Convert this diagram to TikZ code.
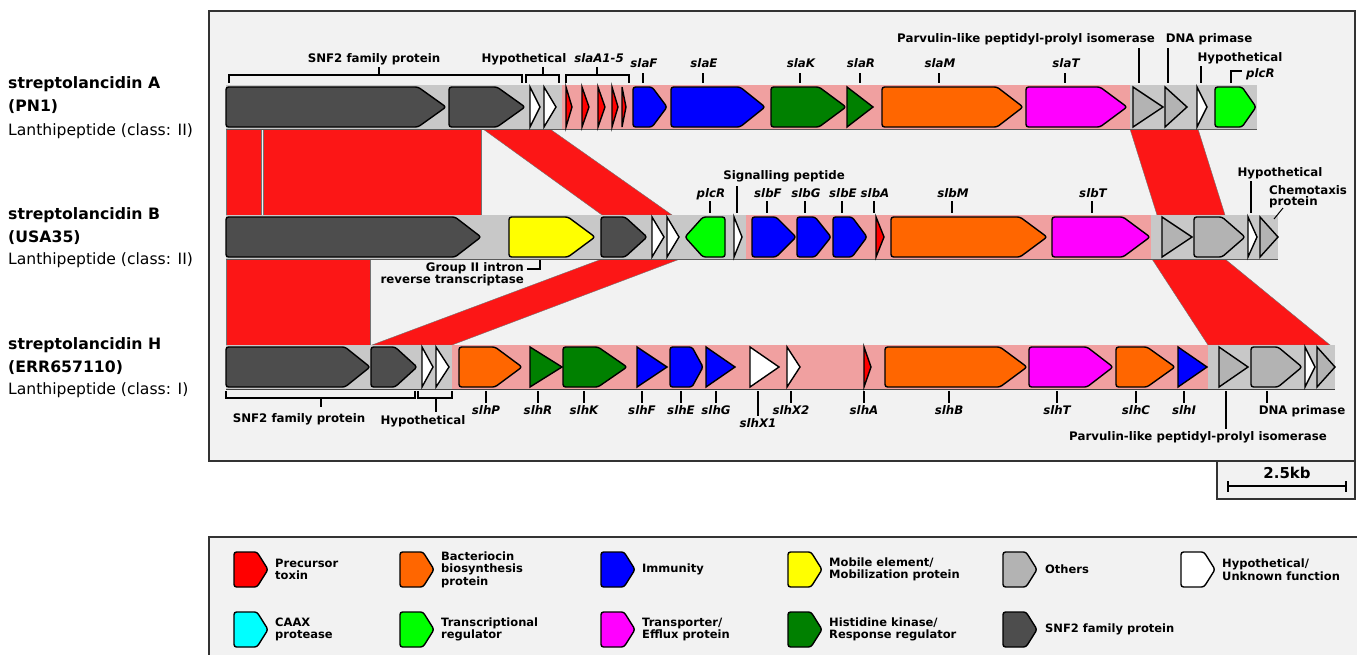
\documentclass[tikz,border=0pt]{standalone}
\usepackage{fontspec}
\setmainfont{DejaVu Sans}[BoldFont={DejaVu Sans Bold},ItalicFont={DejaVu Sans Oblique},BoldItalicFont={DejaVu Sans Bold Oblique}]
\definecolor{panel}{HTML}{F2F2F2}
\definecolor{band}{HTML}{C8C8C8}
\definecolor{pinkb}{HTML}{F0A0A0}
\definecolor{snf}{HTML}{4D4D4D}
\definecolor{oth}{HTML}{B3B3B3}
\definecolor{prec}{HTML}{FF0000}
\definecolor{imm}{HTML}{0000FF}
\definecolor{hk}{HTML}{008000}
\definecolor{trg}{HTML}{00FF00}
\definecolor{bac}{HTML}{FF6600}
\definecolor{trans}{HTML}{FF00FF}
\definecolor{mob}{HTML}{FFFF00}
\definecolor{caax}{HTML}{00FFFF}
\definecolor{lnkc}{HTML}{FC1616}
\tikzset{
 gene/.style={draw=black, line width=1.4pt, rounded corners=2.5pt},
 tgene/.style={draw=black, line width=1.4pt},
 tk/.style={draw=black, line width=1.2pt},
 lab/.style={font=\fontsize{11.8}{13}\selectfont\bfseries, inner sep=0pt, anchor=base},
 glab/.style={font=\fontsize{11.8}{13}\selectfont\bfseries\itshape, inner sep=0pt, anchor=base},
 side/.style={font=\fontsize{15.7}{19}\selectfont\bfseries, inner sep=0pt, anchor=base west},
 sider/.style={font=\fontsize{15.6}{19}\selectfont, inner sep=0pt, anchor=base west},
 leg/.style={font=\fontsize{11.5}{12.5}\selectfont\bfseries, inner sep=0pt, anchor=west, align=left},
 lnk/.style={fill=lnkc, draw=black!55, line width=0.4pt},
}
% x1, body end, tip, y centre, colour
\newcommand\garr[5]{\filldraw[gene, fill=#5] (#3,#4) -- (#2,#4-20) -- (#1,#4-20) -- (#1,#4+20) -- (#2,#4+20) -- cycle;}
% tip (left), body start, x2, y centre, colour
\newcommand\garrl[5]{\filldraw[gene, fill=#5] (#1,#4) -- (#2,#4-20) -- (#3,#4-20) -- (#3,#4+20) -- (#2,#4+20) -- cycle;}
% triangle: x1, tip, y centre, colour
\newcommand\gtri[4]{\filldraw[tgene, fill=#4] (#2,#3) -- (#1,#3-20) -- (#1,#3+20) -- cycle;}
\newcommand\legicon[3]{\filldraw[gene, fill=#3] (#1+34,#2) -- (#1+23,#2-17.5) -- (#1,#2-17.5) -- (#1,#2+17.5) -- (#1+23,#2+17.5) -- cycle;}
\begin{document}
\begin{tikzpicture}[x=1pt,y=-1pt]
\useasboundingbox (0,0) rectangle (1357,654);
\fill[white] (0,0) rectangle (1357,654);
% panels
\draw[fill=panel, line width=1.3pt, draw=black!80] (209,11) rectangle (1355,461);
\draw[fill=panel, line width=1.3pt, draw=black!80] (1217,461) rectangle (1355,499);
\draw[fill=panel, line width=1.3pt, draw=black!80] (209,537) rectangle (1375,680);

% side labels
\node[side] (a1) at (8,88) {streptolancidin A};
\node[side] (a2) at (8,111) {(PN1)};
\node[sider] (a3) at (8,135) {Lanthipeptide (class: II)};
\node[side] (b1) at (8,219) {streptolancidin B};
\node[side] (b2) at (8,242) {(USA35)};
\node[sider] (b3) at (8,264) {Lanthipeptide (class: II)};
\node[side] (c1) at (8,349) {streptolancidin H};
\node[side] (c2) at (8,372) {(ERR657110)};
\node[sider] (c3) at (8,394) {Lanthipeptide (class: I)};

% links
\path[lnk] (226,129) -- (261,129) -- (261,215) -- (226,215) -- cycle;
\path[lnk] (263,129) -- (481,129) -- (481,215) -- (263,215) -- cycle;
\path[lnk] (483,129) -- (550,129) -- (672,215) -- (602,215) -- cycle;
\path[lnk] (1130,129) -- (1198,129) -- (1225,215) -- (1157,215) -- cycle;
\path[lnk] (226,259) -- (370,259) -- (370,345) -- (226,345) -- cycle;
\path[lnk] (602,259) -- (680,259) -- (452,345) -- (372,345) -- cycle;
\path[lnk] (1152,259) -- (1225,259) -- (1330,345) -- (1208,345) -- cycle;

% bands
\fill[band] (226,85) rectangle (1257,129);
\fill[pinkb] (562,85) rectangle (1130,129);
\draw[black!65, line width=0.6pt] (226,129) -- (1257,129);
\fill[band] (226,215) rectangle (1278,259);
\fill[pinkb] (746,215) rectangle (1151,259);
\draw[black!65, line width=0.6pt] (226,259) -- (1278,259);
\fill[band] (226,345) rectangle (1335,389);
\fill[pinkb] (452,345) rectangle (1208,389);
\draw[black!75, line width=0.8pt] (226,389) -- (1335,389);

% genes A
\garr{226}{418}{446}{107}{snf}
\garr{449}{497}{525}{107}{snf}
\gtri{530}{540}{107}{white}
\gtri{544}{556}{107}{white}
\gtri{566}{572}{107}{prec}
\gtri{582}{589}{107}{prec}
\gtri{598}{605}{107}{prec}
\gtri{612}{618}{107}{prec}
\gtri{622}{626}{107}{prec}
\garr{633}{652}{667}{107}{imm}
\garr{671}{740}{765}{107}{imm}
\garr{771}{819}{846}{107}{hk}
\gtri{847}{873}{107}{hk}
\garr{882}{997}{1023}{107}{bac}
\garr{1026}{1100}{1127}{107}{trans}
\gtri{1133}{1163}{107}{oth}
\gtri{1165}{1187}{107}{oth}
\gtri{1197}{1207}{107}{white}
\garr{1215}{1242}{1256}{107}{trg}

% genes B
\garr{226}{455}{481}{237}{snf}
\garr{509}{568}{595}{237}{mob}
\garr{601}{625}{647}{237}{snf}
\gtri{652}{664}{237}{white}
\gtri{667}{679}{237}{white}
\garrl{685}{703}{725}{237}{trg}
\gtri{734}{742}{237}{white}
\garr{752}{776}{796}{237}{imm}
\garr{797}{815}{831}{237}{imm}
\garr{833}{852}{867}{237}{imm}
\gtri{876}{884}{237}{prec}
\garr{891}{1020}{1047}{237}{bac}
\garr{1052}{1123}{1150}{237}{trans}
\gtri{1162}{1192}{237}{oth}
\garr{1194}{1222}{1245}{237}{oth}
\gtri{1248}{1257}{237}{white}
\gtri{1260}{1278}{237}{oth}

% genes C
\garr{226}{345}{370}{367}{snf}
\garr{371}{395}{417}{367}{snf}
\gtri{422}{433}{367}{white}
\gtri{436}{449}{367}{white}
\garr{459}{495}{522}{367}{bac}
\gtri{530}{562}{367}{hk}
\garr{563}{598}{627}{367}{hk}
\gtri{637}{667}{367}{imm}
\garr{670}{692}{703}{367}{imm}
\gtri{706}{735}{367}{imm}
\gtri{750}{779}{367}{white}
\gtri{787}{800}{367}{white}
\gtri{864}{871}{367}{prec}
\garr{885}{1000}{1027}{367}{bac}
\garr{1029}{1087}{1113}{367}{trans}
\garr{1116}{1147}{1175}{367}{bac}
\gtri{1178}{1207}{367}{imm}
\gtri{1219}{1248}{367}{oth}
\garr{1251}{1278}{1302}{367}{oth}
\gtri{1305}{1315}{367}{white}
\gtri{1317}{1335}{367}{oth}

% ---- labels track A
\draw[tk] (229,83) -- (229,75) -- (522,75) -- (522,83) (379,75) -- (379,67);
\node[lab] (lA1) at (374,62) {SNF2 family protein};
\draw[tk] (526,83) -- (526,75) -- (559,75) -- (559,83) (543,75) -- (543,67);
\node[lab] (lA2) at (524,62) {Hypothetical};
\draw[tk] (566,83) -- (566,75) -- (629,75) -- (629,83) (597,75) -- (597,67);
\node[glab] (lA3) at (599,62) {slaA1-5};
\foreach \x/\t in {643/slaF,703/slaE,800/slaK,860/slaR,939/slaM,1065/slaT}{
  \draw[tk] (\x,73) -- (\x,83);
  \node[glab] at (\x+1,67) {\t};
}
\draw[tk] (1139,48) -- (1139,83);
\node[lab] (lA4) at (1026,42) {Parvulin-like peptidyl-prolyl isomerase};
\draw[tk] (1168,48) -- (1168,83);
\node[lab] (lA5) at (1209,42) {DNA primase};
\draw[tk] (1201,66) -- (1201,83);
\node[lab] (lA6) at (1240,61) {Hypothetical};
\draw[tk] (1231,83) -- (1231,71) -- (1242,71);
\node[glab, anchor=base west] (lA7) at (1246,77) {plcR};

% ---- labels track B
\draw[tk] (540,260) -- (540,269) -- (527,269);
\node[lab, anchor=base east] (lB1) at (524,271) {Group II intron};
\node[lab, anchor=base east] (lB2) at (524,283) {reverse transcriptase};
\draw[tk] (710,201) -- (710,213);
\node[glab] (lB3) at (711,197) {plcR};
\draw[tk] (737,186) -- (737,213);
\node[lab] (lB4) at (784,179) {Signalling peptide};
\foreach \x/\t in {767/slbF,805/slbG,842/slbE,874/slbA,952/slbM,1092/slbT}{
  \draw[tk] (\x,201) -- (\x,213);
  \node[glab] at (\x+1,197) {\t};
}
\draw[tk] (1251,181) -- (1251,213);
\node[lab] (lB5) at (1280,176) {Hypothetical};
\node[lab, anchor=base west] (lB6) at (1269,194) {Chemotaxis};
\node[lab, anchor=base west] (lB7) at (1269,205) {protein};
\draw[tk, line width=1pt] (1283,208) -- (1274,219);

% ---- labels track C
\draw[tk] (226,391) -- (226,398) -- (415,398) -- (415,391) (321,398) -- (321,407);
\node[lab] (lC1) at (299,422) {SNF2 family protein};
\draw[tk] (418,391) -- (418,398) -- (452,398) -- (452,391) (436,398) -- (436,412);
\node[lab] (lC2) at (423,424) {Hypothetical};
\foreach \x/\t in {486/slhP,538/slhR,584/slhK,642/slhF,681/slhE,716/slhG,791/slhX2,864/slhA,949/slhB,1057/slhT,1136/slhC,1184/slhI}{
  \draw[tk] (\x,391) -- (\x,403);
  \node[glab] at (\x,414) {\t};
}
\draw[tk] (758,391) -- (758,416);
\node[glab] (lC3) at (758,427) {slhX1};
\draw[tk] (1226,391) -- (1226,429);
\node[lab] (lC4) at (1198,440) {Parvulin-like peptidyl-prolyl isomerase};
\draw[tk] (1267,391) -- (1267,403);
\node[lab] (lC5) at (1302,414) {DNA primase};

% scale
\node[font=\fontsize{15}{17}\selectfont\bfseries, inner sep=0pt, anchor=base] (sc) at (1287,478) {2.5kb};
\draw[line width=1.4pt] (1228,486) -- (1346,486) (1228,481) -- (1228,492) (1346,481) -- (1346,492);

% ---- legend
\legicon{234}{569.5}{prec}
\node[leg] (k1) at (275,569.5) {Precursor\\toxin};
\legicon{400}{569.5}{bac}
\node[leg] (k2) at (441,569.5) {Bacteriocin\\biosynthesis\\protein};
\legicon{601}{569.5}{imm}
\node[leg] (k3) at (642,569.5) {Immunity};
\legicon{788}{569.5}{mob}
\node[leg] (k4) at (829,569.5) {Mobile element/\\Mobilization protein};
\legicon{1003}{569.5}{oth}
\node[leg] (k5) at (1045,569.5) {Others};
\legicon{1181}{569.5}{white}
\node[leg] (k6) at (1222,569.5) {Hypothetical/\\Unknown function};
\legicon{234}{629.5}{caax}
\node[leg] (k7) at (275,629.5) {CAAX\\protease};
\legicon{400}{629.5}{trg}
\node[leg] (k8) at (441,629.5) {Transcriptional\\regulator};
\legicon{601}{629.5}{trans}
\node[leg] (k9) at (642,629.5) {Transporter/\\Efflux protein};
\legicon{788}{629.5}{hk}
\node[leg] (k10) at (829,629.5) {Histidine kinase/\\Response regulator};
\legicon{1003}{629.5}{snf}
\node[leg] (k11) at (1045,629.5) {SNF2 family protein};
\end{tikzpicture}
\end{document}
